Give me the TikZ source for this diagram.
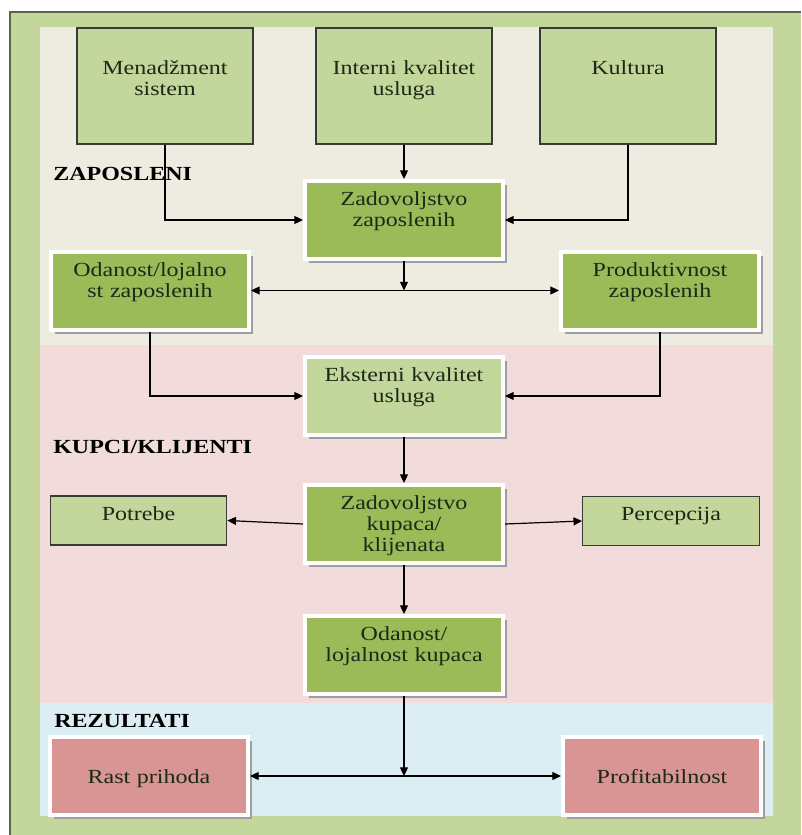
\documentclass[tikz,border=0pt]{standalone}
\usepackage{fontspec}
\setmainfont{Liberation Serif}[FakeStretch=1.2]
\usetikzlibrary{arrows.meta,shadows}
\definecolor{framegreen}{HTML}{C3D69B}
\definecolor{framedark}{HTML}{5C6448}
\definecolor{beige}{HTML}{EEECE1}
\definecolor{pinkbg}{HTML}{F2DCDB}
\definecolor{bluebg}{HTML}{DBEEF3}
\definecolor{lightgreen}{HTML}{C3D69B}
\definecolor{darkgreen}{HTML}{9BBB59}
\definecolor{redbox}{HTML}{D99594}
\definecolor{boxline}{HTML}{3A3A34}
\definecolor{boxtext}{HTML}{1C2916}

\begin{document}
\begin{tikzpicture}[x=0.75pt,y=-0.75pt,
  every node/.style={font=\fontsize{15}{15.8}\selectfont, text=boxtext},
  topbox/.style={draw=boxline, line width=0.8pt, fill=lightgreen,
    minimum width=132pt, minimum height=87pt, text width=124pt, align=center,
    inner sep=0pt, text height=34.5pt, text depth=52.5pt},
  smallbox/.style={draw=boxline, line width=0.8pt, fill=lightgreen,
    minimum width=132.5pt, minimum height=36.75pt, text width=124pt, align=center,
    inner sep=0pt, text height=18pt, text depth=18.75pt},
  shadowbox/.style={draw=white, line width=3pt, fill=darkgreen,
    minimum width=148.5pt, minimum height=58.5pt, text width=140pt, align=center,
    inner sep=0pt, text height=18.5pt, text depth=40pt,
    drop shadow={shadow xshift=3pt, shadow yshift=-3pt, fill=black!38, opacity=1}},
  resultbox/.style={shadowbox, fill=redbox, text height=34.5pt, text depth=24pt},
  lbl/.style={font=\fontsize{15}{16}\selectfont\bfseries, text=black, inner sep=0pt},
  arr/.style={line width=0.9pt, -{Triangle[length=6.5pt,width=6pt]}},
  dbl/.style={line width=0.9pt, {Triangle[length=6.5pt,width=6pt]}-{Triangle[length=6.5pt,width=6pt]}}
]
\useasboundingbox (0,0) rectangle (801,835);
% frame and bands
\fill[framegreen] (10,12) rectangle (801,835);
\draw[framedark, line width=1.5pt] (10,835) -- (10,12) -- (801,12);
\fill[beige] (40,27) rectangle (773,345);
\fill[pinkbg] (40,345) rectangle (773,703);
\fill[bluebg] (40,703) rectangle (773,816);

% zaposleni
\node[topbox] (mgmt) at (165,86) {Menadžment\\sistem};
\node[topbox] (interni) at (404,86) {Interni kvalitet\\usluga};
\node[topbox] (kultura) at (628,86) {Kultura};
\node[lbl, anchor=base west] (zap) at (53,180) {ZAPOSLENI};
\node[shadowbox] (zadz) at (404,220) {Zadovoljstvo\\zaposlenih};
\node[shadowbox] (odz) at (150,290.5) {Odanost/lojalno\\st zaposlenih};
\node[shadowbox] (prodz) at (660,290.5) {Produktivnost\\zaposlenih};

% kupci
\node[shadowbox, fill=lightgreen] (eksterni) at (404,396) {Eksterni kvalitet\\usluga};
\node[lbl, anchor=base west] (kup) at (53,453) {KUPCI/KLIJENTI};
\node[shadowbox] (zadk) at (404,524) {Zadovoljstvo\\kupaca/\\klijenata};
\node[smallbox] (potrebe) at (138.5,520.5) {Potrebe};
\node[smallbox] (percepcija) at (671,521) {Percepcija};
\node[shadowbox] (odk) at (404,655) {Odanost/\\lojalnost kupaca};

% rezultati
\node[lbl, anchor=base west] (rez) at (54,727) {REZULTATI};
\node[resultbox] (rast) at (149,776) {Rast prihoda};
\node[resultbox] (profit) at (662,776) {Profitabilnost};

% connectors
\draw[arr] (mgmt.south) |- (zadz.west);
\draw[arr] (kultura.south) |- (zadz.east);
\draw[arr] (interni) -- (zadz);
\coordinate (z1) at (zadz.south |- odz.east);
\draw[arr] (zadz.south) -- (z1);
\draw[dbl] (odz.east) -- (prodz.west);
\draw[arr] (odz.south) |- (eksterni.west);
\draw[arr] (prodz.south) |- (eksterni.east);
\draw[arr] (eksterni) -- (zadk);
\draw[arr] (zadk.west) -- (potrebe.east);
\draw[arr] (zadk.east) -- (percepcija.west);
\draw[arr] (zadk) -- (odk);
\coordinate (z2) at (odk.south |- rast.east);
\draw[arr] (odk.south) -- (z2);
\draw[dbl] (rast.east) -- (profit.west);
\end{tikzpicture}
\end{document}
